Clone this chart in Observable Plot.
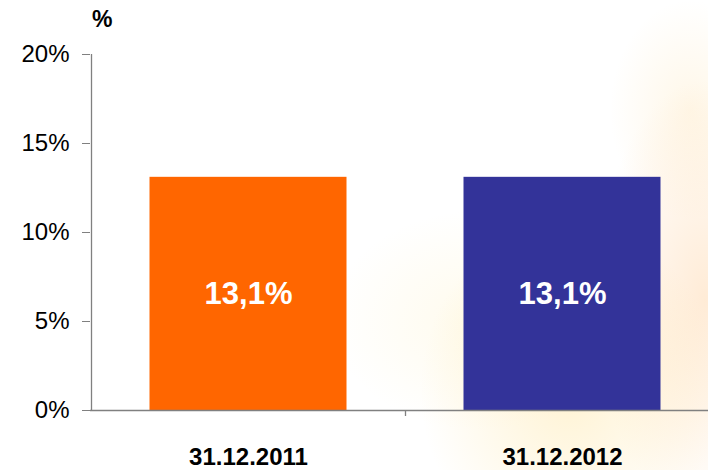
<!DOCTYPE html>
<html>
<head>
<meta charset="utf-8">
<script src="https://cdn.jsdelivr.net/npm/d3@7"></script>
<script src="https://cdn.jsdelivr.net/npm/@observablehq/plot@0.6"></script>
<style>
  html, body { margin: 0; padding: 0; width: 708px; height: 470px; overflow: hidden; }
  body {
    position: relative;
    background:
      radial-gradient(ellipse 150px 170px at 570px 390px, rgba(255, 215, 110, 0.30), rgba(255,255,255,0) 100%),
      radial-gradient(ellipse 110px 220px at 705px 300px, rgba(255, 190, 120, 0.30), rgba(255,255,255,0) 100%),
      radial-gradient(ellipse 150px 110px at 480px 320px, rgba(255, 230, 150, 0.18), rgba(255,255,255,0) 100%),
      radial-gradient(ellipse 80px 110px at 690px 110px, rgba(255, 215, 140, 0.20), rgba(255,255,255,0) 100%),
      #ffffff;
    font-family: Arial, "Liberation Sans", sans-serif;
  }
  #unit { position: absolute; left: 92px; top: 6px; font-size: 23px; font-weight: bold; color: #000; }
  #chart { position: absolute; left: 0; top: 0; }
</style>
</head>
<body>
<div id="chart"></div>
<div id="unit">%</div>
<script>
const categories = ["31.12.2011", "31.12.2012"];
const values = [13.1, 13.1];
const valueLabels = ["13,1%", "13,1%"];
const barColors = ["#FF6600", "#333399"];
const yTicks = [0, 5, 10, 15, 20];

const data = categories.map((c, i) => ({cat: c, value: values[i], label: valueLabels[i], color: barColors[i]}));

const W = 708, H = 470;
const xRange = [90.5, 718.5];
const step = (xRange[1] - xRange[0]) / categories.length;

const plot = Plot.plot({
  width: W,
  height: H,
  marginLeft: 90,
  marginRight: 0,
  marginTop: 54,
  marginBottom: 60,
  style: {background: "transparent", fontFamily: "Arial, 'Liberation Sans', sans-serif", color: "#000"},
  x: {domain: categories, range: xRange, padding: 0},
  y: {domain: [0, 20], range: [410, 54]},
  marks: [
    Plot.barY(data, {x: "cat", y: "value", fill: d => d.color, insetLeft: 58.5, insetRight: 58.5}),
    Plot.ruleX([categories[0]], {x: d => d, dx: -step / 2, y1: 20, y2: 0, stroke: "#808080", strokeWidth: 1.3}),
    Plot.ruleY([0], {stroke: "#808080", strokeWidth: 1.3}),
    Plot.ruleX([categories[1]], {x: d => d, dx: -step / 2, y1: 0, y2: 0, insetBottom: -6, stroke: "#808080", strokeWidth: 1.3}),
    Plot.axisY({ticks: yTicks, tickFormat: d => d + "%", tickSize: 8, tickPadding: 13, fontSize: 24, stroke: "#808080", fill: "#000", label: null}),
    Plot.axisX({tickSize: 0, tickPadding: 37, fontSize: 24, fontWeight: "bold", fill: "#000", label: null}),
    Plot.text(data, {x: "cat", y: d => d.value / 2, text: "label", fill: "white", fontSize: 31, fontWeight: "bold"})
  ]
});
document.getElementById("chart").appendChild(plot);
</script>
</body>
</html>
